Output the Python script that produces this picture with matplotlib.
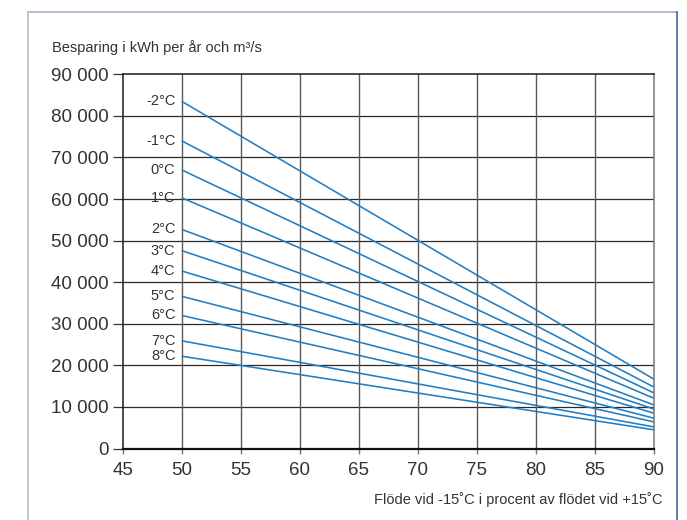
import matplotlib
matplotlib.use("Agg")
import matplotlib.pyplot as plt
from matplotlib.lines import Line2D
from matplotlib.ticker import FuncFormatter

# Savings per outdoor temperature, read at 50 % and 90 % flow
temps = ['-2°C', '-1°C', '0°C', '1°C', '2°C', '3°C', '4°C', '5°C', '6°C', '7°C', '8°C']
flow_pct = [50, 90]
save_at_50 = [83500, 74000, 67000, 60300, 52700, 47600, 42700, 36600, 32000, 25900, 22200]
save_at_90 = [16700, 14800, 13400, 12100, 10500, 9500, 8500, 7300, 6400, 5200, 4500]

x_ticks = [45, 50, 55, 60, 65, 70, 75, 80, 85, 90]
y_ticks = [0, 10000, 20000, 30000, 40000, 50000, 60000, 70000, 80000, 90000]

title = "Besparing i kWh per år och m³/s"
xlabel = "Flöde vid -15˚C i procent av flödet vid +15˚C"

plt.rcParams['font.family'] = ['Liberation Sans', 'DejaVu Sans']

W, H = 687, 520
fig = plt.figure(figsize=(W / 100, H / 100), dpi=100)
ax = fig.add_axes([122.7 / W, 1 - 448.5 / H, (653.7 - 122.7) / W, (448.5 - 74.3) / H])

line_color = '#1f7ec4'
for name, a, b in zip(temps, save_at_50, save_at_90):
    ax.plot(flow_pct, [a, b], color=line_color, lw=1.15, solid_capstyle='butt', zorder=3)
    ax.annotate(name, xy=(flow_pct[0], a), xytext=(-4.5, 0), textcoords='offset points',
                ha='right', va='center', fontsize=10.5, color='#333333')

ax.set_xlim(45, 90)
ax.set_ylim(0, 90000)
ax.set_xticks(x_ticks)
ax.set_yticks(y_ticks)
ax.yaxis.set_major_formatter(FuncFormatter(lambda v, p: f"{int(v):,}".replace(",", " ")))

ax.grid(False)
for yv in y_ticks[1:-1]:
    ax.axhline(yv, color='#2a2a2a', lw=0.9, zorder=1)
for xv in x_ticks[1:-1]:
    ax.axvline(xv, color='#5a5a5a', lw=1.0, zorder=1)

for side in ['left', 'top']:
    ax.spines[side].set_color('#1a1a1a')
    ax.spines[side].set_linewidth(1.1)
ax.spines['bottom'].set_color('#111111')
ax.spines['bottom'].set_linewidth(1.6)
ax.spines['right'].set_color('#777777')
ax.spines['right'].set_linewidth(1.1)

ax.tick_params(axis='y', length=7, width=0.9, color='#333333', pad=3,
               labelsize=13.5, labelcolor='#333333')
ax.tick_params(axis='x', length=3.5, width=1.0, color='#4f7fae', pad=6,
               labelsize=13.5, labelcolor='#333333')

fig.text(52 / W, 1 - 48 / H, title, ha='left', va='center', fontsize=10.5, color='#333333')
fig.text(662 / W, 1 - 500 / H, xlabel, ha='right', va='center', fontsize=10.5, color='#333333')

# Outer frame around the chart panel
L, R, T = 27.5 / W, 676.5 / W, 1 - 12 / H
fig.add_artist(Line2D([L, R], [T, T], transform=fig.transFigure, color='#a9b9ca', lw=1.3))
fig.add_artist(Line2D([L, L], [0, T], transform=fig.transFigure, color='#b4c3d2', lw=1.3))
fig.add_artist(Line2D([R, R], [0, T], transform=fig.transFigure, color='#4f76a3', lw=1.3))

fig.savefig("out.png", dpi=100)
